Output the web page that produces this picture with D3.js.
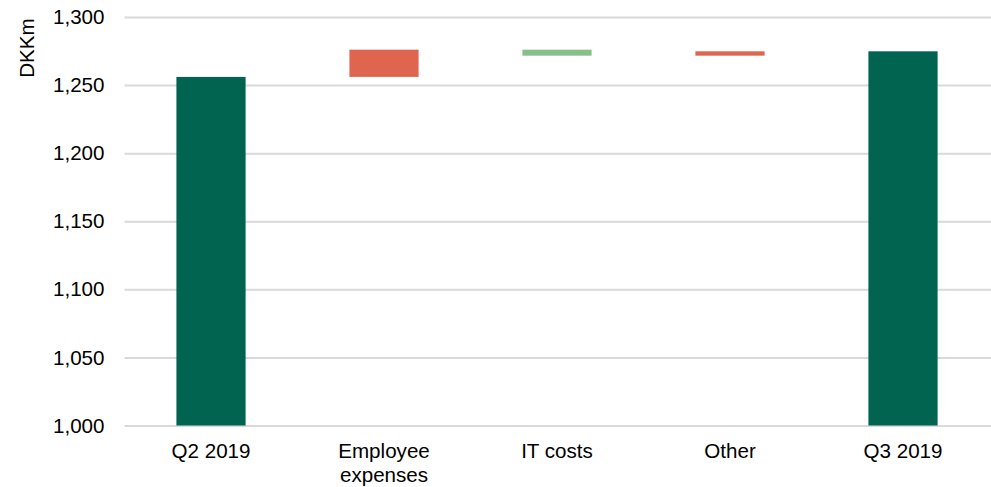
<!DOCTYPE html>
<html>
<head>
<meta charset="utf-8">
<script src="https://cdn.jsdelivr.net/npm/d3@7"></script>
<style>
  body { margin: 0; background: #fff; }
  svg { display: block; font-family: Arial, "Liberation Sans", sans-serif; }
  .tick text { font-size: 20.6px; fill: #000; }
</style>
</head>
<body>
<div id="chart"></div>
<script>
// categories and values (DKKm)
const categories = ["Q2 2019", "Employee expenses", "IT costs", "Other", "Q3 2019"]
const kinds = ["total", "delta", "delta", "delta", "total"]
const values = [1256, 20, -4.4, 3.2, 1274.8]
const yTicks = [1000, 1050, 1100, 1150, 1200, 1250, 1300]

const width = 991
const height = 487
const margin = { top: 17, right: 1, bottom: 61, left: 124.5 }

const colors = { total: "#006450", up: "#E0654F", down: "#86C088" }

// build waterfall rows
let running = 0
const rows = categories.map((c, i) => {
  let v = values[i]
  let row
  if (kinds[i] == "total") {
    running = v
    row = { cat: c, y0: 1000, y1: v, color: colors.total }
  } else {
    let start = running
    running = running + v
    row = { cat: c, y0: start, y1: running, color: v > 0 ? colors.up : colors.down }
  }
  return row
})

const svg = d3.select("#chart").append("svg").attr("width", width).attr("height", height)

const x = d3.scaleBand()
  .domain(categories)
  .range([margin.left, width - 1.5])
  .paddingInner(0.6)
  .paddingOuter(0.3)

const y = d3.scaleLinear().domain([1000, 1300]).range([height - margin.bottom - 0.5, margin.top])

// y axis with gridlines
const yAxis = svg.append("g")
  .attr("transform", `translate(${margin.left},0)`)
  .call(d3.axisLeft(y)
    .tickValues(yTicks)
    .tickFormat(d3.format(","))
    .tickSizeInner(-(width - margin.left))
    .tickSizeOuter(0)
    .tickPadding(20))
yAxis.select(".domain").remove()
yAxis.selectAll(".tick line").attr("stroke", "#d9d9d9").attr("stroke-width", 2)

// bars
svg.append("g")
  .selectAll("rect")
  .data(rows)
  .join("rect")
  .attr("x", d => x(d.cat))
  .attr("width", x.bandwidth())
  .attr("y", d => y(Math.max(d.y0, d.y1)))
  .attr("height", d => Math.abs(y(d.y0) - y(d.y1)))
  .attr("fill", d => d.color)

// x axis labels
const xAxis = svg.append("g")
  .attr("transform", `translate(0,${y(1000)})`)
  .call(d3.axisBottom(x).tickSize(0).tickPadding(18))
xAxis.select(".domain").remove()
xAxis.selectAll(".tick text").each(function (d) {
  let t = d3.select(this)
  let words = d == "Employee expenses" ? ["Employee", "expenses"] : [d]
  t.text(null)
  words.forEach((w, i) => {
    t.append("tspan").attr("x", 0).attr("dy", i == 0 ? "0.71em" : "1.18em").text(w)
  })
})

// y axis title
svg.append("text")
  .attr("transform", "translate(34,48) rotate(-90)")
  .attr("text-anchor", "middle")
  .style("font-size", "20.6px")
  .attr("fill", "#000")
  .text("DKKm")
</script>
</body>
</html>
